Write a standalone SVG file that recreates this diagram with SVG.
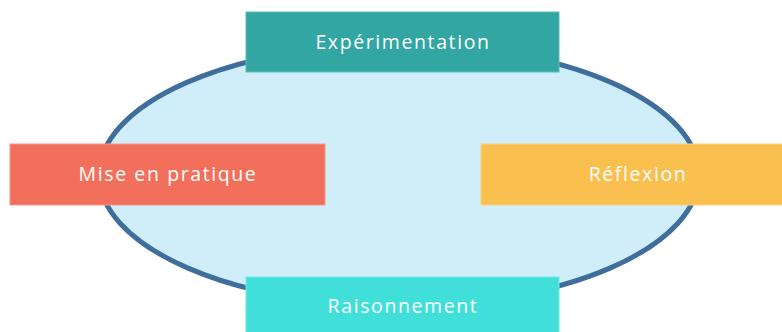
<svg xmlns="http://www.w3.org/2000/svg" width="782" height="332" viewBox="0 0 782 332">
  <style>
    .box { stroke-width: 1; }
    .label { font-family: "Open Sans", "Liberation Sans", sans-serif; font-size: 19.5px; letter-spacing: 1.6px; fill: #ffffff; text-anchor: middle; }
  </style>
  <rect width="782" height="332" fill="#ffffff"/>
  <!-- central cycle -->
  <g id="cycle">
    <ellipse cx="399" cy="175" rx="300" ry="131" fill="#d0eef9" stroke="#3f6e9c" stroke-width="5"/>
  </g>
  <g id="connectors"></g>
  <g id="experimentation">
    <rect class="box" x="246" y="12" width="313" height="60" fill="#31a6a2" stroke="#5cbdb9"/>
    <text class="label" x="403" y="49">Expérimentation</text>
  </g>
  <g id="mise-en-pratique">
    <rect class="box" x="10" y="144" width="315" height="61" fill="#f26f5c" stroke="#f79585"/>
    <text class="label" x="168" y="181">Mise en pratique</text>
  </g>
  <g id="reflexion">
    <rect class="box" x="481" y="144" width="302" height="61" fill="#f9bf4f" stroke="#fbd27c"/>
    <text class="label" x="638" y="181">Réflexion</text>
  </g>
  <g id="raisonnement">
    <rect class="box" x="246" y="277" width="313" height="56" fill="#40dfda" stroke="#74e8e4"/>
    <text class="label" x="403" y="313">Raisonnement</text>
  </g>
</svg>
